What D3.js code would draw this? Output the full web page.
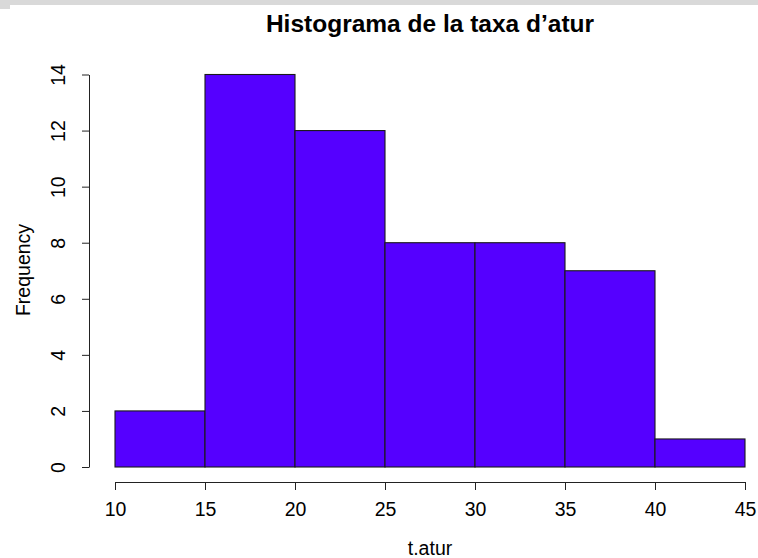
<!DOCTYPE html>
<html>
<head>
<meta charset="utf-8">
<script src="https://cdn.jsdelivr.net/npm/d3@7"></script>
<style>
  html, body { margin: 0; padding: 0; background: #fff; overflow: hidden; }
  svg { display: block; }
  text { font-family: "Liberation Sans", Arial, sans-serif; fill: #000; }
</style>
</head>
<body>
<svg id="hist" width="758" height="558"></svg>
<script>
// histogram data (t.atur)
var breaks = [10, 15, 20, 25, 30, 35, 40, 45];
var counts = [2, 14, 12, 8, 8, 7, 1];
var xTicks = [10, 15, 20, 25, 30, 35, 40, 45];
var yTicks = [0, 2, 4, 6, 8, 10, 12, 14];

var svg = d3.select("#hist");

// grey strip of the window above the plot
svg.append("rect").attr("x", 0).attr("y", 0).attr("width", 758).attr("height", 5).attr("fill", "#d9d9d9");
svg.append("rect").attr("x", 0).attr("y", 0).attr("width", 10).attr("height", 9).attr("fill", "#d9d9d9");

// scales
var x = d3.scaleLinear().domain([10, 45]).range([115, 745]);
var y = d3.scaleLinear().domain([0, 14]).range([467, 74.5]);

var bins = counts.map(function(c, i) {
    return { x0: breaks[i], x1: breaks[i + 1], n: c };
});

// bars
svg.selectAll("rect.bar")
    .data(bins)
    .enter()
    .append("rect")
    .attr("class", "bar")
    .attr("x", function(d) { return x(d.x0); })
    .attr("y", function(d) { return y(d.n); })
    .attr("width", function(d) { return x(d.x1) - x(d.x0); })
    .attr("height", function(d) { return y(0) - y(d.n); })
    .attr("fill", "#5500ff")
    .attr("stroke", "#1a1a1a")
    .attr("stroke-width", 1.1);

// x axis
var xAxis = d3.axisBottom(x).tickValues(xTicks).tickSize(8).tickSizeOuter(0).tickPadding(12);
var gx = svg.append("g").attr("transform", "translate(0,482)").call(xAxis);
gx.select(".domain").attr("stroke", "#222");
gx.selectAll(".tick line").attr("stroke", "#222");
gx.selectAll(".tick text").attr("font-size", "19.5px").attr("fill", "#000")
    .attr("font-family", "Liberation Sans, Arial, sans-serif");

// y axis
var yAxis = d3.axisLeft(y).tickValues(yTicks).tickSize(7).tickSizeOuter(0).tickPadding(0);
var gy = svg.append("g").attr("transform", "translate(89,0)").call(yAxis);
gy.select(".domain").attr("stroke", "#222");
gy.selectAll(".tick line").attr("stroke", "#222");
gy.selectAll(".tick text")
    .attr("font-size", "19.5px")
    .attr("fill", "#000")
    .attr("font-family", "Liberation Sans, Arial, sans-serif")
    .attr("x", null).attr("dy", null)
    .attr("text-anchor", "middle")
    .attr("transform", "translate(-24,0) rotate(-90)");

// title and axis labels
svg.append("text")
    .attr("x", 430).attr("y", 32)
    .attr("text-anchor", "middle")
    .style("font-weight", "bold")
    .style("font-size", "24.5px")
    .text("Histograma de la taxa d\u2019atur");

svg.append("text")
    .attr("x", 430).attr("y", 555)
    .attr("text-anchor", "middle")
    .style("font-size", "19.5px")
    .text("t.atur");

svg.append("text")
    .attr("transform", "translate(30,270) rotate(-90)")
    .attr("text-anchor", "middle")
    .style("font-size", "19.5px")
    .text("Frequency");
</script>
</body>
</html>
